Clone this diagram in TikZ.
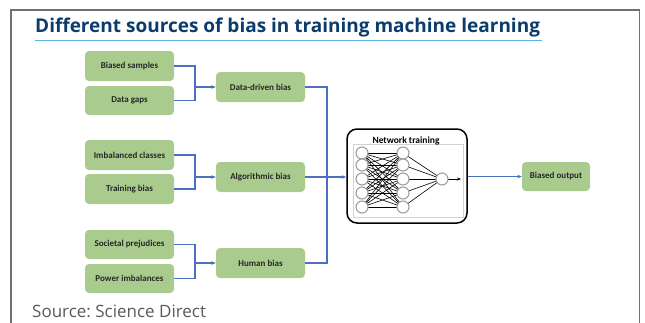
\documentclass[tikz,border=0pt]{standalone}
\usepackage{fontspec}
\setmainfont{Open Sans}
\newfontfamily\carl{Carlito}
\newfontfamily\osans{Open Sans}
\usetikzlibrary{arrows.meta}
\frenchspacing
\definecolor{titleblue}{HTML}{0B3C6C}
\definecolor{ulblue}{HTML}{5DB3DF}
\definecolor{boxgreen}{HTML}{A9CC8E}
\definecolor{lineblue}{HTML}{4A70C0}
\definecolor{framegray}{HTML}{707070}
\definecolor{srcgray}{HTML}{5A5A5A}
\tikzset{
  gbox/.style={rounded corners=4pt, fill=boxgreen, minimum width=89pt, minimum height=30pt, inner sep=0pt,
    font=\carl\bfseries\fontsize{9}{10}\selectfont, text=black!85},
  conn/.style={draw=lineblue, line width=1.3pt},
  arr/.style={conn, -{Stealth[length=4.5pt,width=3.5pt]}},
  neuron/.style={circle, draw=gray!75, line width=1.1pt, fill=white, minimum size=12pt, inner sep=0pt},
  syn/.style={draw=black, line width=0.6pt}
}
\begin{document}
\begin{tikzpicture}[x=1pt,y=-1pt]
\useasboundingbox (0,0) rectangle (645,322);
% frame
\draw[framegray, line width=1.6pt] (11,330) -- (11,10) -- (639.5,10) -- (639.5,330);
% title
\node[anchor=base west, inner sep=0pt, text=titleblue, font=\osans\bfseries\fontsize{19}{22}\selectfont] (title) at (35,32) {Different sources of bias in training machine learning};
\draw[ulblue, line width=1pt] (35,40) -- (542,40);
% source
\node[anchor=base west, inner sep=0pt, text=srcgray, font=\osans\fontsize{17}{20}\selectfont] (src) at (32,317) {Source: Science Direct};
% left boxes
\node[gbox] (bs) at (129.5,66) {Biased samples};
\node[gbox, minimum height=29pt] (dg) at (129.5,100.5) {Data gaps};
\node[gbox] (ic) at (129.5,155) {Imbalanced classes};
\node[gbox] (tb) at (129.5,189) {Training bias};
\node[gbox, minimum height=29pt] (sp) at (129.5,244.5) {Societal prejudices};
\node[gbox, minimum height=29pt] (pi) at (129.5,278.5) {Power imbalances};
% middle boxes
\node[gbox] (ddb) at (260.5,87) {Data-driven bias};
\node[gbox] (ab) at (260.5,177) {Algorithmic bias};
\node[gbox] (hb) at (260.5,263) {Human bias};
% output
\node[gbox, minimum width=68pt, minimum height=29pt] (bo) at (556,176.5) {Biased output};
% network training box
\node[draw=black, line width=1.5pt, rounded corners=10pt, minimum width=120pt, minimum height=94pt, inner sep=0pt] (nt) at (407,176) {};
\draw[gray!35, line width=0.5pt] (353,144) rectangle (463,217);
\node[font=\carl\bfseries\fontsize{9.5}{10}\selectfont, inner sep=0pt] (ntl) at (406,140.5) {Network training};
% neurons
\foreach \i/\y in {1/153,2/165,3/179,4/193,5/207}{
  \coordinate (a\i) at (362,\y);
  \coordinate (b\i) at (403,\y);
}
\coordinate (o) at (442,179);
\coordinate (oe) at (461,179);
\foreach \i in {1,...,5}{
  \foreach \j in {1,...,5}{
    \draw[syn] (a\i) -- (b\j);
  }
  \draw[syn] (b\i) -- (o);
}
\draw[syn, -{Stealth[length=4pt,width=3pt]}] (o) -- (oe);
\foreach \i in {1,...,5}{
  \node[neuron] (na\i) at (a\i) {};
  \node[neuron] (nb\i) at (b\i) {};
}
\node[neuron] (no) at (o) {};
% connectors left
\coordinate (j1) at (195,87);
\coordinate (j2) at (195,177);
\coordinate (j3) at (195,263);
\draw[conn] (bs.east) -| (j1);
\draw[conn] (dg.east) -| (j1);
\draw[arr] (j1) -- (ddb.west);
\draw[conn] (ic.east) -| (j2);
\draw[conn] (tb.east) -| (j2);
\draw[arr] (j2) -- (ab.west);
\draw[conn] (sp.east) -| (j3);
\draw[conn] (pi.east) -| (j3);
\draw[arr] (j3) -- (hb.west);
% connectors right
\coordinate (k) at (327,177);
\draw[conn] (ddb.east) -| (k);
\draw[conn] (hb.east) -| (k);
\draw[arr] (ab.east) -- (nt.west |- ab.east);
\draw[arr] (nt.east |- bo.west) -- (bo.west);
\end{tikzpicture}
\end{document}
